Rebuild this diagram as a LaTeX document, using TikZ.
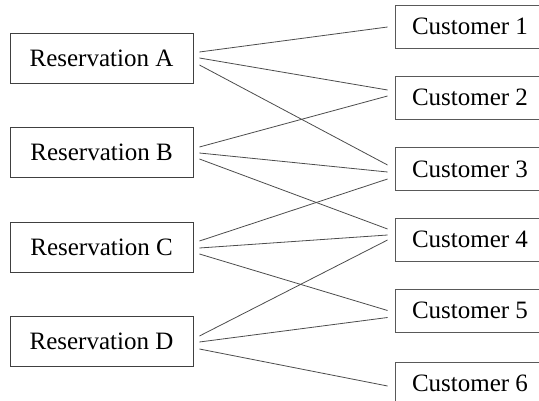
\documentclass[tikz,border=0pt]{standalone}
\usepackage{fontspec}
\setmainfont{Liberation Serif}
\begin{document}
\begin{tikzpicture}[x=1pt,y=-1pt,
  resbox/.style={draw=black!75,line width=0.9pt,minimum width=183pt,minimum height=50pt,inner sep=0pt,font=\fontsize{25}{28}\selectfont},
  custbox/.style={draw=black!65,line width=0.9pt,minimum width=150pt,minimum height=43pt,inner sep=0pt,font=\fontsize{25}{28}\selectfont},
  link/.style={draw=black!70,line width=0.8pt}]
\useasboundingbox (0,0) rectangle (539,401);
\clip (0,0) rectangle (539,401);
\node[resbox] (rA) at (101.5,58) {Reservation A};
\node[resbox] (rB) at (101.5,152.5) {Reservation B};
\node[resbox] (rC) at (101.5,247) {Reservation C};
\node[resbox] (rD) at (101.5,341.5) {Reservation D};
\node[custbox] (c1) at (470,26.5) {Customer 1};
\node[custbox] (c2) at (470,97.5) {Customer 2};
\node[custbox] (c3) at (470,169) {Customer 3};
\node[custbox] (c4) at (470,239.5) {Customer 4};
\node[custbox] (c5) at (470,310.5) {Customer 5};
\node[custbox] (c6) at (470,383.5) {Customer 6};
% Reservation A
\draw[link] ([xshift=6pt,yshift=6pt]rA.east) -- ([xshift=-7pt,yshift=-0.5pt]c1.west);
\draw[link] ([xshift=6pt,yshift=0pt]rA.east) -- ([xshift=-7pt,yshift=7.5pt]c2.west);
\draw[link] ([xshift=6pt,yshift=-7pt]rA.east) -- ([xshift=-7pt,yshift=4pt]c3.west);
% Reservation B
\draw[link] ([xshift=6pt,yshift=5.5pt]rB.east) -- ([xshift=-7pt,yshift=1.5pt]c2.west);
\draw[link] ([xshift=6pt,yshift=-0.5pt]rB.east) -- ([xshift=-7pt,yshift=-3pt]c3.west);
\draw[link] ([xshift=6pt,yshift=-6.5pt]rB.east) -- ([xshift=-7pt,yshift=10.5pt]c4.west);
% Reservation C
\draw[link] ([xshift=6pt,yshift=6pt]rC.east) -- ([xshift=-7pt,yshift=-10pt]c3.west);
\draw[link] ([xshift=6pt,yshift=-1pt]rC.east) -- ([xshift=-7pt,yshift=4.5pt]c4.west);
\draw[link] ([xshift=6pt,yshift=-7pt]rC.east) -- ([xshift=-7pt,yshift=0pt]c5.west);
% Reservation D
\draw[link] ([xshift=6pt,yshift=5.5pt]rD.east) -- ([xshift=-7pt,yshift=-0.5pt]c4.west);
\draw[link] ([xshift=6pt,yshift=-0.5pt]rD.east) -- ([xshift=-7pt,yshift=-7pt]c5.west);
\draw[link] ([xshift=6pt,yshift=-7.5pt]rD.east) -- ([xshift=-7pt,yshift=-2.5pt]c6.west);
\end{tikzpicture}
\end{document}
